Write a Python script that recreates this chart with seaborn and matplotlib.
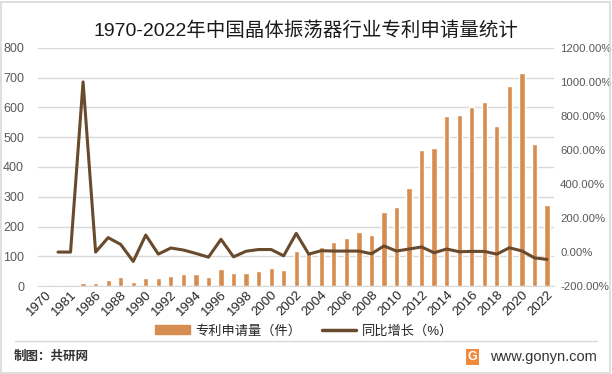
import numpy as np
import pandas as pd
import seaborn as sns
import matplotlib.pyplot as plt
from matplotlib.patches import Rectangle
from matplotlib.lines import Line2D

years = ['1970', '1980', '1981', '1985'] + [str(y) for y in range(1986, 2023)]
patents = [3, 3, 2, 9, 9, 20, 30, 14, 27, 27, 34, 41, 41, 30, 57, 43, 43, 51, 60, 53,
           119, 112, 132, 149, 162, 181, 173, 248, 267, 331, 456, 463, 570, 574, 601,
           617, 539, 672, 716, 476, 271]
growth = [np.nan, 0, 0, 1000, 0, 85, 45, -55, 100, -12, 24, 12, -8, -30, 75, -28, 5,
          15, 15, -22, 110, -12, 8, 6, 6, 6, -10, 36, 6, 18, 30, -4, 18, 2, 4, 4,
          -12, 25, 7, -34, -43]

bar_color = '#D68D4F'
line_color = '#694A2C'
grid_color = '#D9D9D9'
tick_color = '#595959'
narrow = ['Liberation Sans Narrow', 'Liberation Sans', 'DejaVu Sans']

sns.set_style('white')
plt.rcParams['font.family'] = ['Liberation Sans', 'Noto Sans CJK SC', 'DejaVu Sans']

df = pd.DataFrame({'year': years, 'patents': patents, 'growth': growth})

fig = plt.figure(figsize=(6.12, 3.74), dpi=100)
ax = fig.add_axes([0.062, 0.235, 0.844, 0.637])

sns.barplot(data=df, x='year', y='patents', color=bar_color, width=0.42,
            saturation=1, ax=ax, zorder=2)
ax.set_ylim(0, 800)
ax.set_yticks(range(0, 801, 100))
ax.set_yticklabels([str(v) for v in range(0, 801, 100)], family=narrow,
                   fontsize=9, color=tick_color)
ax.grid(axis='y', color=grid_color, linewidth=1, zorder=0)
ax.set_xlim(-0.6, len(years) - 0.4)
ax.set_xlabel('')
ax.set_ylabel('')
for s in ['top', 'right', 'left']:
    ax.spines[s].set_visible(False)
ax.spines['bottom'].set_color(grid_color)
ax.tick_params(axis='y', length=0, pad=10)
ax.tick_params(axis='x', length=0, pad=2)
ticks = list(range(0, len(years), 2))
ax.set_xticks(ticks)
ax.set_xticklabels([years[i] for i in ticks], rotation=45, ha='right',
                   rotation_mode='anchor', color='#262626', fontsize=9.5,
                   family=narrow)

ax2 = ax.twinx()
sns.lineplot(x=np.arange(len(years)), y=df['growth'], color=line_color,
             linewidth=2.2, ax=ax2, zorder=3)
ax2.set_ylim(-200, 1200)
pct_ticks = list(range(-200, 1201, 200))
ax2.set_yticks(pct_ticks)
ax2.set_yticklabels([f'{v:.2f}%' for v in pct_ticks], family=narrow,
                    fontsize=8.2, color=tick_color)
ax2.tick_params(axis='y', length=0, pad=4)
ax2.set_ylabel('')
for s in ['top', 'right', 'left', 'bottom']:
    ax2.spines[s].set_visible(False)

fig.text(0.5, 0.918, '1970-2022年中国晶体振荡器行业专利申请量统计', ha='center',
         va='center', fontsize=14, color='#1a1a1a', fontweight='light')

handles = [Rectangle((0, 0), 1, 1, color=bar_color),
           Line2D([0], [0], color=line_color, linewidth=2.5)]
fig.legend(handles, ['专利申请量（件）', '同比增长（%）'], loc='center',
           bbox_to_anchor=(0.497, 0.115), ncol=2, frameon=False, fontsize=9.5,
           handlelength=2.6, columnspacing=1.6, handletextpad=0.4)

fig.add_artist(Line2D([0.025, 0.975], [0.088, 0.088], color=grid_color,
                      linewidth=1, transform=fig.transFigure))
fig.text(0.022, 0.045, '制图：共研网', fontsize=9, fontweight='bold',
         color='#333333', va='center')
fig.text(0.772, 0.045, 'G', fontsize=9, fontweight='bold', color='white',
         va='center', ha='center',
         bbox=dict(boxstyle='square,pad=0.15', fc='#F08A3C', ec='none'))
fig.text(0.975, 0.045, 'www.gonyn.com', fontsize=10.5, color='#333333',
         va='center', ha='right')

fig.add_artist(Rectangle((0.002, 0.003), 0.994, 0.992, fill=False,
                         ec=grid_color, lw=1.2, transform=fig.transFigure))

fig.savefig('out.png', dpi=100)
